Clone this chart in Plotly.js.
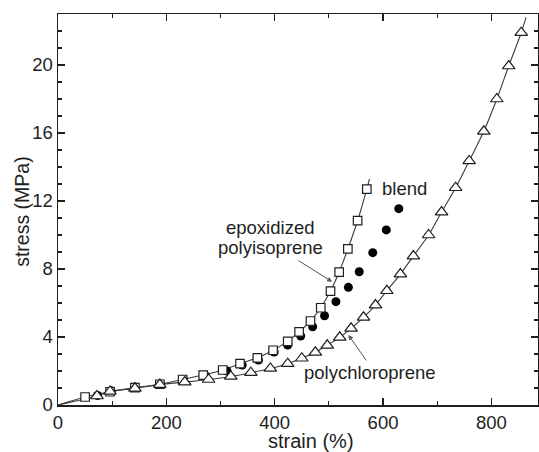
<!DOCTYPE html>
<html>
<head>
<meta charset="utf-8">
<script src="https://cdn.plot.ly/plotly-3.0.1.min.js"></script>
<style>
  html, body { margin: 0; padding: 0; background: #fff; }
  #chart { width: 539px; height: 452px; }
</style>
</head>
<body>
<div id="chart"></div>
<script>
// Stress–strain data (strain in %, stress in MPa)

// epoxidized polyisoprene (open squares)
const epiStrain = [50, 96, 142, 188, 230, 268, 304, 336, 368, 397, 424, 445, 466, 485, 503, 519, 535, 553, 570];
const epiStress = [0.47, 0.78, 1.02, 1.22, 1.50, 1.76, 2.06, 2.43, 2.77, 3.22, 3.74, 4.30, 4.94, 5.72, 6.70, 7.82, 9.18, 10.84, 12.70];

// blend (filled circles)
const blendStrain = [73, 98, 142, 189, 231, 272, 312, 340, 370, 399, 424, 448, 470, 492, 513, 536, 556, 581, 606, 629];
const blendStress = [0.56, 0.84, 1.06, 1.24, 1.50, 1.72, 2.00, 2.35, 2.65, 3.12, 3.53, 4.06, 4.60, 5.25, 6.08, 6.92, 7.84, 8.96, 10.30, 11.55];

// polychloroprene (open triangles)
const pcStrain = [72, 96, 142, 188, 234, 278, 319, 356, 392, 424, 450, 475, 497, 520, 541, 564, 586, 607, 632, 656, 684, 708, 734, 759, 786, 810, 832, 855];
const pcStress = [0.53, 0.80, 0.98, 1.20, 1.35, 1.50, 1.68, 1.90, 2.15, 2.43, 2.75, 3.10, 3.51, 3.98, 4.51, 5.16, 5.88, 6.72, 7.70, 8.76, 10.00, 11.35, 12.78, 14.36, 16.10, 18.00, 19.94, 21.90];

// fitted curves run from the origin through the points and a little past the last one
const epiCurveEnd = [575, 13.3];
const pcCurveEnd = [864, 22.8];

// axis ticks
const xTicks = [0, 200, 400, 600, 800];
const yTicks = [0, 4, 8, 12, 16, 20];

const FONT = "Liberation Sans, Arial, Helvetica, sans-serif";
const INK = "#1e1e1e";
const CURVE = "#3a3a3a";

const curve = (xs, ys, end) => ({
  x: [0, ...xs, end[0]],
  y: [0, ...ys, end[1]],
  mode: "lines",
  line: { color: CURVE, width: 1.1, shape: "spline", smoothing: 0.8 },
  hoverinfo: "skip",
  showlegend: false
});

// open symbols are drawn white-filled so the fitted curve stays hidden inside them
const openMarker = (symbol, size) => ({
  symbol: symbol, size: size, color: "#fff", line: { width: 1.2, color: INK }
});

const traces = [
  curve(pcStrain, pcStress, pcCurveEnd),
  curve(epiStrain, epiStress, epiCurveEnd),
  {
    x: blendStrain, y: blendStress, mode: "markers", name: "blend",
    marker: { symbol: "circle", size: 9, color: "#000", line: { width: 0 } },
    showlegend: false
  },
  {
    x: epiStrain, y: epiStress, mode: "markers", name: "epoxidized polyisoprene",
    marker: openMarker("square", 8.5),
    showlegend: false
  },
  {
    x: pcStrain, y: pcStress, mode: "markers", name: "polychloroprene",
    marker: openMarker("triangle-up", 11),
    showlegend: false
  }
];

const axisCommon = {
  showgrid: false,
  zeroline: false,
  showline: true,
  linecolor: INK,
  linewidth: 1.5,
  mirror: "ticks",
  ticks: "inside",
  ticklen: 7,
  tickwidth: 1.3,
  tickcolor: INK,
  tickfont: { family: FONT, size: 18.5, color: INK },
  fixedrange: true
};

const labelFont = { family: FONT, size: 18.5, color: INK };

const layout = {
  width: 539,
  height: 452,
  margin: { l: 58, r: 1, t: 14, b: 47 },
  paper_bgcolor: "#fff",
  plot_bgcolor: "#fff",
  font: { family: FONT, color: INK },
  xaxis: Object.assign({}, axisCommon, {
    range: [0, 886],
    tickvals: xTicks,
    ticktext: xTicks.map(String),
    minor: { dtick: 100, tick0: 0, ticks: "inside", ticklen: 4, tickwidth: 1.2, tickcolor: INK }
  }),
  yaxis: Object.assign({}, axisCommon, {
    range: [0, 23],
    tickvals: yTicks,
    ticktext: yTicks.map(String),
    minor: { dtick: 1, tick0: 0, ticks: "inside", ticklen: 4, tickwidth: 1.2, tickcolor: INK }
  }),
  annotations: [
    // axis titles
    {
      xref: "paper", yref: "paper", x: 0.527, y: -0.0925, xanchor: "center", yanchor: "middle",
      borderpad: 0, text: "strain (%)", showarrow: false, font: { family: FONT, size: 20, color: INK }
    },
    {
      xref: "paper", yref: "paper", x: -0.075, y: 0.494, xanchor: "center", yanchor: "middle",
      text: "stress (MPa)", textangle: -90, showarrow: false, font: { family: FONT, size: 19.5, color: INK }
    },
    // curve labels
    { x: 640, y: 12.76, xref: "x", yref: "y", text: "blend", showarrow: false, font: labelFont },
    { x: 392, y: 10.47, xref: "x", yref: "y", text: "epoxidized", showarrow: false, font: labelFont },
    { x: 392, y: 9.24, xref: "x", yref: "y", text: "polyisoprene", showarrow: false, font: labelFont },
    {
      x: 506, y: 7.25, xref: "x", yref: "y", text: "", showarrow: true,
      ax: -35, ay: -22, arrowhead: 2, arrowsize: 1, arrowwidth: 1, arrowcolor: "#555"
    },
    { x: 575, y: 1.94, xref: "x", yref: "y", text: "polychloroprene", showarrow: false, font: labelFont },
    {
      x: 536, y: 4.12, xref: "x", yref: "y", text: "", showarrow: true,
      ax: 19, ay: 27, arrowhead: 2, arrowsize: 1, arrowwidth: 1, arrowcolor: "#555"
    }
  ]
};

Plotly.newPlot("chart", traces, layout, { displayModeBar: false, staticPlot: true });
</script>
</body>
</html>
